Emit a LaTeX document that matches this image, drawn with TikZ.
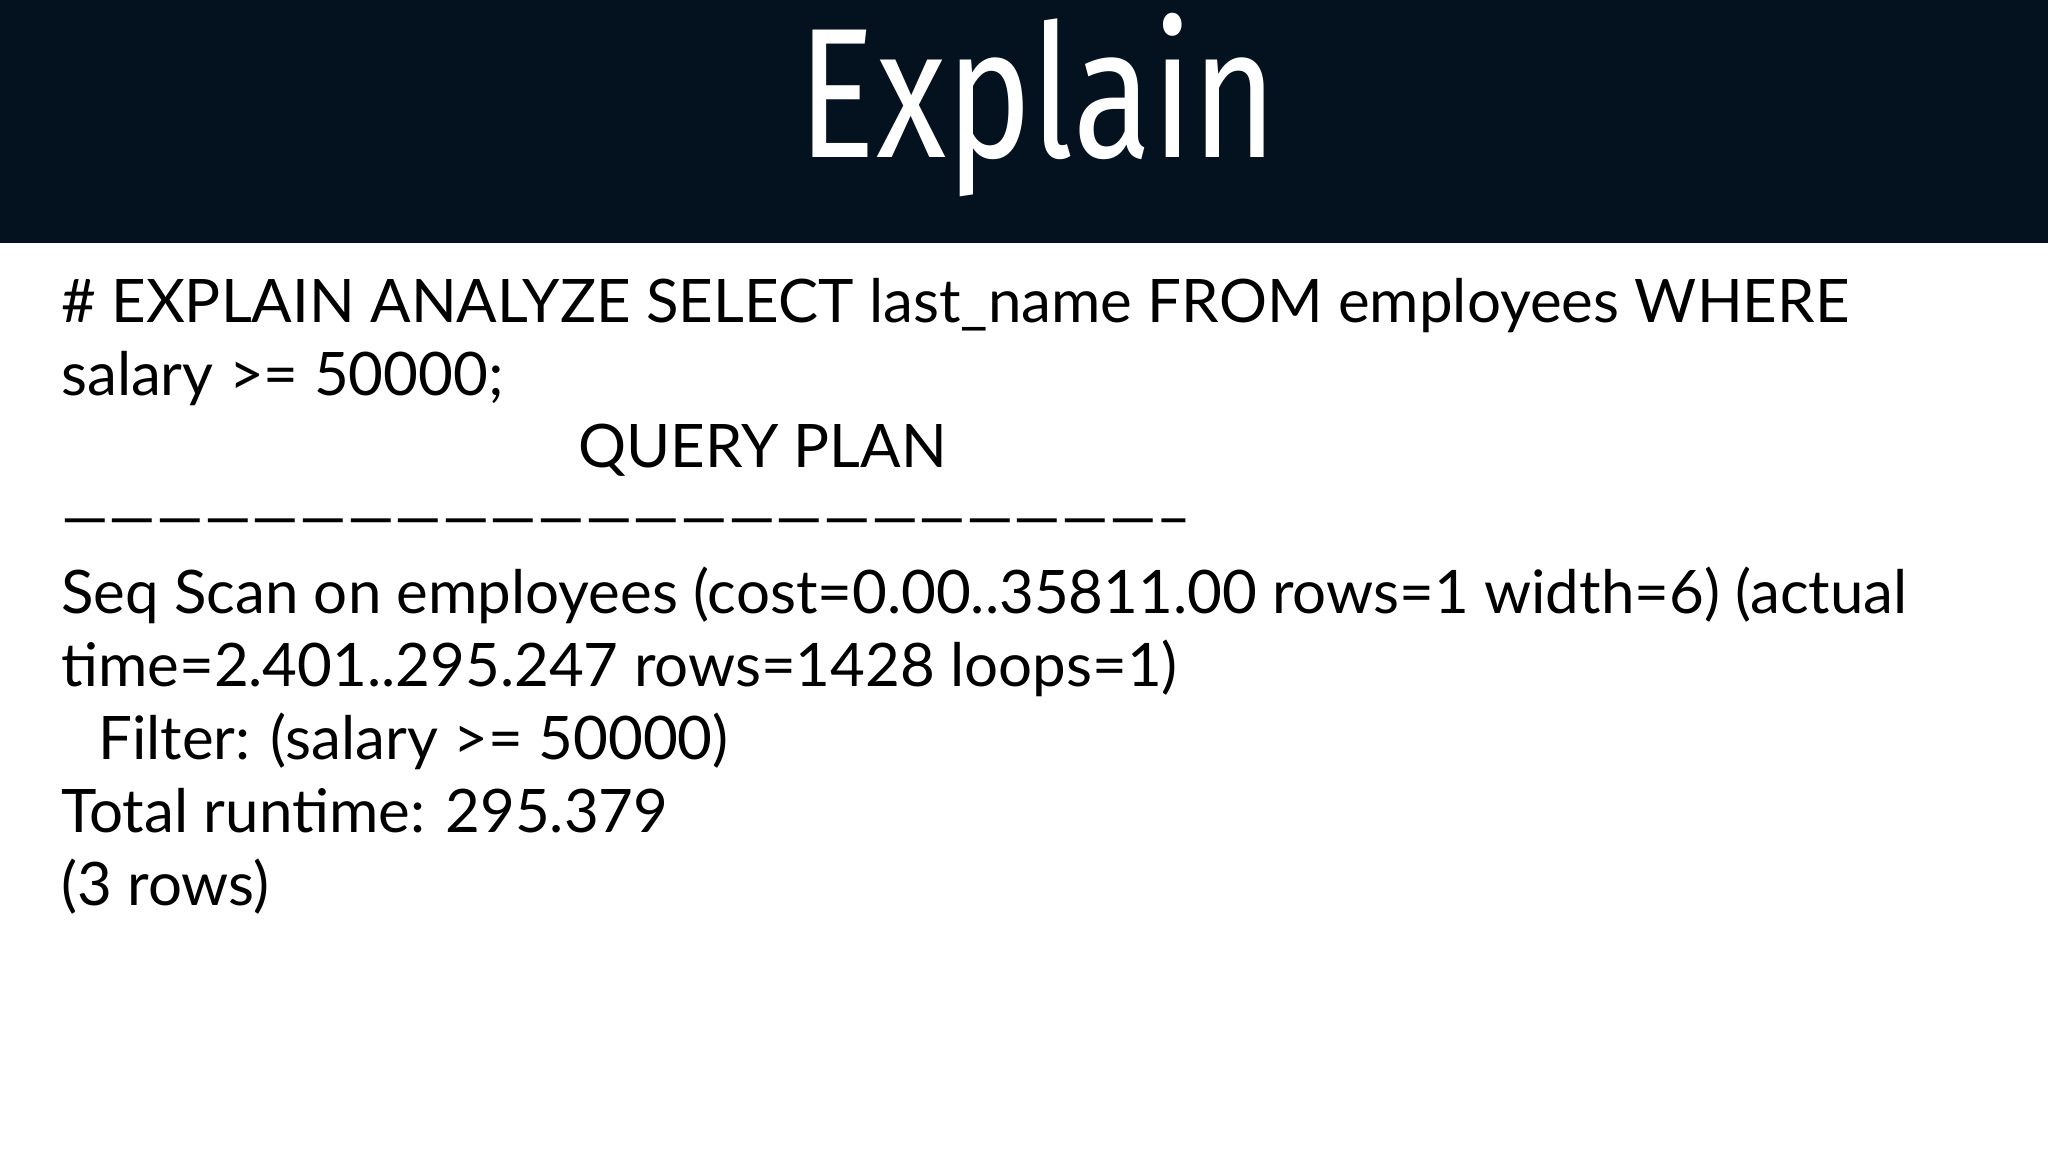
\documentclass[tikz,border=0pt]{standalone}
\usepackage{fontspec}
\setmainfont{Lato}
\newfontfamily\titlefont[FakeStretch=0.78]{Fira Sans}
\definecolor{band}{HTML}{04111F}
\begin{document}
\begin{tikzpicture}[x=1pt,y=-1pt,
  line/.style={anchor=base west,inner sep=0pt,font=\fontsize{60}{60}\selectfont}]
\useasboundingbox (0,0) rectangle (2048,1152);
\fill[white] (0,0) rectangle (2048,1152);
\fill[band] (0,0) rectangle (2048,243);
\node[anchor=base,inner sep=0pt,text=white,font=\titlefont\fontsize{185}{185}\selectfont] (title) at (1038,157) {Explain};
\node[line] (l1) at (61,322) {\# EXPLAIN ANALYZE SELECT last\_name FROM employees WHERE};
\node[line] (l2) at (61,395) {salary >= 50000;};
\node[line] (l3) at (578,467) {QUERY PLAN};
\node[line] (l4) at (61,538) {-----------------------------------------------------------------------};
\node[line] (l5) at (61,613) {Seq Scan on employees (cost=0.00..35811.00 rows=1 width=6) (actual};
\node[line] (l6) at (61,686) {time=2.401..295.247 rows=1428 loops=1)};
\node[line] (l7) at (98,759) {Filter: (salary >= 50000)};
\node[line] (l8) at (61,832) {Total runtime: 295.379};
\node[line] (l9) at (61,905) {(3 rows)};
\end{tikzpicture}
\end{document}
